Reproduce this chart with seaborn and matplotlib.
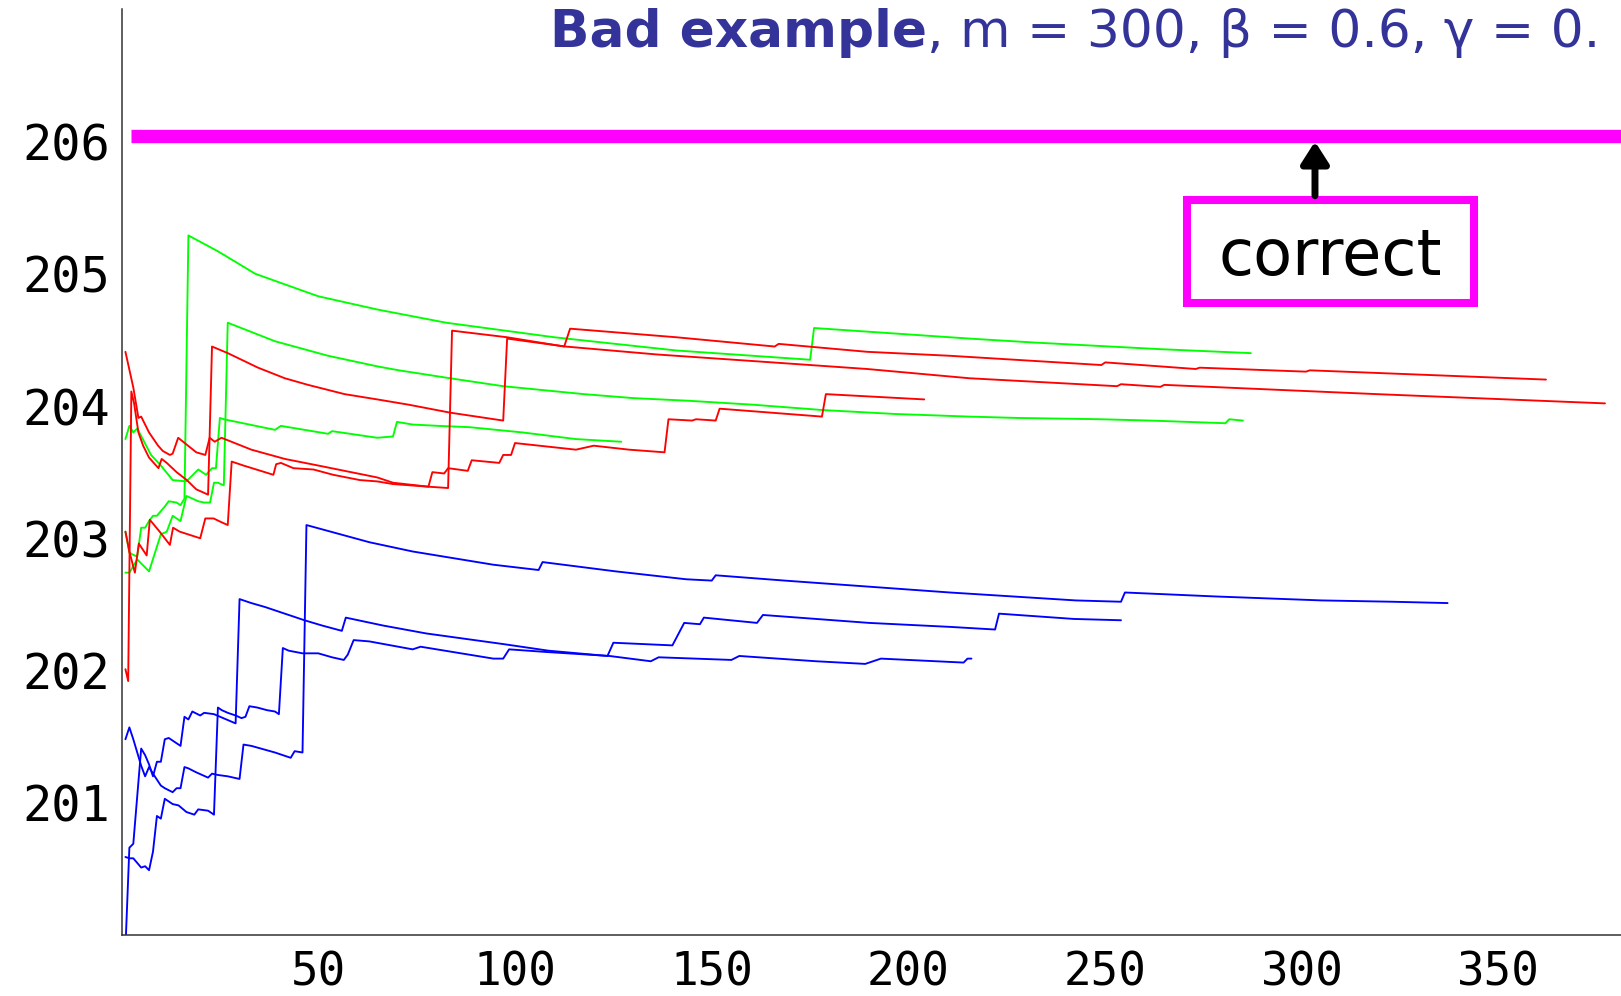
import matplotlib
matplotlib.use("Agg")
import matplotlib.pyplot as plt
import matplotlib.patches as mpatches
from matplotlib.ticker import FixedLocator, MultipleLocator
import pandas as pd
import seaborn as sns

# ---------------- data: running estimates per run ----------------
green1_x = [1, 2, 4, 5, 6, 7, 8, 9, 11, 12, 14, 15, 16, 17, 24.5, 34, 41.5, 50, 65, 82.5,
            110, 141, 175, 176, 215.5, 232, 264, 287]
green1_y = [203.05, 202.89, 202.86, 203.08, 203.08, 203.13, 203.17, 203.17, 203.24, 203.28,
            203.27, 203.25, 203.30, 205.29, 205.17, 205.00, 204.92, 204.83, 204.73, 204.63,
            204.52, 204.42, 204.35, 204.59, 204.51, 204.48, 204.43, 204.40]

green2_x = [1, 2, 4, 7, 8.5, 10, 11.5, 13, 15, 16.5, 18, 19.5, 21, 22.5, 23.5, 24.5, 26, 27,
            39, 52.5, 65, 70.5, 83.5, 97, 117.5, 130, 144, 160.5, 178, 196.5, 215.5, 227.5,
            249, 261.5, 280.5, 281.5, 285]
green2_y = [202.74, 202.74, 202.84, 202.75, 202.89, 203.03, 203.05, 203.17, 203.13, 203.32,
            203.30, 203.28, 203.27, 203.27, 203.42, 203.42, 203.40, 204.63, 204.49, 204.38,
            204.30, 204.27, 204.21, 204.15, 204.09, 204.06, 204.04, 204.01, 203.97, 203.94,
            203.92, 203.91, 203.90, 203.89, 203.87, 203.90, 203.89]

green3_x = [1, 2, 3, 4, 7.5, 10, 13, 16.5, 19.5, 21.5, 23, 24, 25, 26, 39, 40.5, 52.5, 53.5,
            65, 69, 70, 74, 80.5, 88.5, 102, 115.5, 127]
green3_y = [203.75, 203.85, 203.80, 203.83, 203.63, 203.55, 203.44, 203.43, 203.52, 203.48,
            203.53, 203.53, 203.91, 203.90, 203.82, 203.85, 203.79, 203.81, 203.76, 203.77,
            203.88, 203.86, 203.85, 203.84, 203.80, 203.75, 203.73]

red1_x = [1, 3, 4.3, 5, 7, 9.3, 10.5, 12.3, 13, 14.4, 19, 21.3, 22.4, 23.7, 25.4, 33, 41.5,
          50, 65, 69, 78, 83, 84, 98, 112.5, 114, 141, 166, 167, 189.5, 210.5, 249, 250,
          273, 274, 301, 302, 362]
red1_y = [204.41, 204.14, 203.91, 203.92, 203.80, 203.70, 203.66, 203.63, 203.64, 203.76,
          203.65, 203.63, 203.76, 203.73, 203.76, 203.67, 203.60, 203.55, 203.46, 203.42,
          203.39, 203.38, 204.57, 204.52, 204.45, 204.585, 204.52, 204.45, 204.47, 204.41,
          204.38, 204.31, 204.33, 204.28, 204.29, 204.26, 204.27, 204.20]

red2_x = [1, 1.7, 2.5, 3.2, 4.3, 5.5, 7, 9.4, 10.2, 11.5, 14, 16.6, 19, 22, 23, 27, 34.7,
          41.5, 47.4, 56.7, 65, 73, 83.5, 97, 98, 112.8, 136, 160.5, 189.5, 215.5, 253, 254,
          264, 265, 319, 377]
red2_y = [202.01, 201.92, 204.11, 204.02, 203.80, 203.70, 203.61, 203.53, 203.60, 203.57,
          203.50, 203.44, 203.37, 203.33, 204.45, 204.40, 204.29, 204.21, 204.16, 204.09,
          204.05, 204.01, 203.95, 203.89, 204.51, 204.45, 204.39, 204.34, 204.28, 204.21,
          204.15, 204.165, 204.145, 204.16, 204.09, 204.02]

red3_x = [1, 2, 3.4, 4.4, 6.4, 7.2, 9.7, 12.3, 13.1, 14.8, 20, 21.3, 23.4, 25.5, 27, 28, 31,
          38.6, 39.3, 40.5, 43.7, 48.8, 53.8, 60.6, 65, 69, 78, 79, 82, 83, 88, 89, 96, 97,
          99, 100, 115.5, 120, 129, 138, 139, 145, 146, 151, 152, 178, 179, 204]
red3_y = [203.05, 202.90, 202.74, 202.96, 202.87, 203.14, 203.05, 202.95, 203.08, 203.05,
          203.00, 203.15, 203.15, 203.12, 203.10, 203.58, 203.55, 203.48, 203.56, 203.57,
          203.53, 203.52, 203.48, 203.44, 203.43, 203.41, 203.39, 203.50, 203.49, 203.53,
          203.51, 203.59, 203.57, 203.63, 203.63, 203.72, 203.67, 203.70, 203.67, 203.65,
          203.90, 203.89, 203.90, 203.89, 203.98, 203.92, 204.09, 204.05]

blue1_x = [1, 2, 3, 5, 6, 7, 8, 10, 11, 13, 14, 15, 16, 17, 19, 22, 23, 24.5, 27, 30, 31,
           33, 39, 43, 44, 46, 47, 63, 74, 94.5, 106, 107, 125.5, 143.5, 150, 151, 168.5,
           210.5, 242.5, 254, 255, 278, 305, 323, 337]
blue1_y = [201.48, 201.57, 201.48, 201.28, 201.20, 201.27, 201.22, 201.13, 201.11, 201.08,
           201.11, 201.11, 201.27, 201.26, 201.23, 201.19, 201.22, 201.21, 201.20, 201.18,
           201.44, 201.43, 201.38, 201.34, 201.39, 201.38, 203.10, 202.97, 202.90, 202.80,
           202.76, 202.82, 202.75, 202.69, 202.68, 202.72, 202.68, 202.59, 202.53, 202.52,
           202.59, 202.56, 202.53, 202.52, 202.51]

blue2_x = [1, 2, 3, 5, 6, 7, 8, 9, 10, 11, 12, 15, 16, 17, 18, 20, 21, 23.5, 29, 30, 33,
           36.5, 41.5, 46.5, 51, 56, 57, 66.5, 77.5, 97, 108.5, 123.5, 125, 140, 143, 147,
           148, 161.5, 163, 190, 210.5, 222, 223, 242, 254]
blue2_y = [199.90, 200.66, 200.69, 201.41, 201.36, 201.29, 201.20, 201.31, 201.31, 201.48,
           201.49, 201.43, 201.65, 201.63, 201.69, 201.66, 201.68, 201.67, 201.60, 202.54,
           202.51, 202.48, 202.43, 202.38, 202.34, 202.30, 202.40, 202.34, 202.28, 202.20,
           202.15, 202.11, 202.21, 202.19, 202.36, 202.35, 202.40, 202.36, 202.42, 202.36,
           202.33, 202.31, 202.43, 202.39, 202.38]

blue3_x = [1, 2, 3, 5, 6, 7, 8, 9, 10, 11, 13, 14.5, 16.5, 18.5, 19.5, 22, 23.5, 24.5, 25.5,
           27, 29, 30.5, 31.5, 32.5, 34.5, 37, 39, 40, 41, 42.5, 46, 50, 53.5, 56.5, 57.5,
           59, 63, 74, 76, 94.5, 97, 98.5, 108, 124, 134.5, 136.5, 155, 157, 176.5, 189,
           193, 214, 215, 216]
blue3_y = [200.59, 200.58, 200.58, 200.51, 200.52, 200.49, 200.63, 200.90, 200.88, 201.03,
           200.99, 200.98, 200.93, 200.91, 200.95, 200.94, 200.91, 201.72, 201.70, 201.68,
           201.66, 201.64, 201.65, 201.73, 201.72, 201.70, 201.69, 201.67, 202.17, 202.15,
           202.13, 202.13, 202.10, 202.08, 202.12, 202.23, 202.22, 202.16, 202.18, 202.09,
           202.09, 202.16, 202.14, 202.11, 202.07, 202.10, 202.08, 202.11, 202.07, 202.05,
           202.09, 202.06, 202.09, 202.09]

correct_x = [2.5, 400]
correct_y = [206.045, 206.045]

x_ticks = [50, 100, 150, 200, 250, 300, 350]
y_ticks = [201, 202, 203, 204, 205, 206]

runs = {
    "green 1": (green1_x, green1_y), "green 2": (green2_x, green2_y), "green 3": (green3_x, green3_y),
    "red 1": (red1_x, red1_y), "red 2": (red2_x, red2_y), "red 3": (red3_x, red3_y),
    "blue 1": (blue1_x, blue1_y), "blue 2": (blue2_x, blue2_y), "blue 3": (blue3_x, blue3_y),
}
palette = {name: {"g": "#00ff00", "r": "#ff0000", "b": "#0000ff"}[name[0]] for name in runs}

frames = [pd.DataFrame({"run": name, "step": xs, "value": ys}) for name, (xs, ys) in runs.items()]
df = pd.concat(frames, ignore_index=True)

# ---------------- figure ----------------
sns.set_theme(style="white")
plt.rcParams["font.family"] = ["DejaVu Sans"]

W, H = 1621, 996
fig = plt.figure(figsize=(W / 100, H / 100), dpi=100)
x0_px, yb_px, yt_px = 121.5, 935.0, 9.3
ax = fig.add_axes([x0_px / W, (H - yb_px) / H, 1 - x0_px / W, (yb_px - yt_px) / H])

sns.lineplot(data=df, x="step", y="value", hue="run", hue_order=list(runs), palette=palette,
             estimator=None, sort=False, linewidth=1.35, legend=False, ax=ax)

ax.plot(correct_x, correct_y, color="#ff00ff", lw=9.6, solid_capstyle="butt", zorder=5)

ax.set_xlim(0, (W - x0_px) / 3.935)
ax.set_ylim(200, 207)
ax.set_xlabel("")
ax.set_ylabel("")

for side in ("top", "right"):
    ax.spines[side].set_visible(False)
for side in ("left", "bottom"):
    ax.spines[side].set_color("#333333")
    ax.spines[side].set_linewidth(1.1)

ax.xaxis.set_major_locator(FixedLocator(x_ticks))
ax.xaxis.set_minor_locator(MultipleLocator(10))
ax.yaxis.set_major_locator(FixedLocator(y_ticks))
ax.yaxis.set_minor_locator(MultipleLocator(0.2))
ax.set_xticklabels([str(v) for v in x_ticks])
ax.set_yticklabels([str(v) for v in y_ticks])
ax.tick_params(which="major", direction="in", length=6.8, width=1.0, color="#333333")
ax.tick_params(which="minor", direction="in", length=4.0, width=0.9, color="#333333")
ax.tick_params(axis="x", which="major", pad=11)
ax.tick_params(axis="y", which="major", pad=8.5)
for lab in ax.get_xticklabels():
    lab.set_fontfamily("DejaVu Sans Mono")
    lab.set_fontsize(33)
    lab.set_color("black")
for lab in ax.get_yticklabels():
    lab.set_fontfamily("DejaVu Sans Mono")
    lab.set_fontsize(35)
    lab.set_color("black")

# annotation: boxed label with arrow pointing at the reference line
ax.add_patch(mpatches.Rectangle((270.8, 204.78), 343.7 - 270.8, 205.56 - 204.78,
                                fill=False, edgecolor="#ff00ff", linewidth=5.8, zorder=6))
ax.text(307.1, 204.993, "correct", ha="center", va="baseline", fontsize=46,
        color="black", zorder=7)
ax.add_patch(mpatches.FancyArrowPatch((303.3, 205.59), (303.3, 206.0),
                                      arrowstyle="-|>,head_length=13,head_width=8.3",
                                      mutation_scale=1, lw=5, color="black",
                                      shrinkA=0, shrinkB=0, zorder=6))

# title in two weights
title_color = "#333399"
t1 = fig.text(550 / W, 1 - 46.5 / H, "Bad example", fontsize=37.3, fontweight="bold",
              color=title_color, ha="left", va="baseline")
renderer = fig.canvas.get_renderer()
bb = t1.get_window_extent(renderer)
fig.text(bb.x1 / W, 1 - 46.5 / H, ", m = 300, \u03b2 = 0.6, \u03b3 = 0.", fontsize=37.3,
         color=title_color, ha="left", va="baseline")

fig.savefig("out.png", dpi=100, facecolor="white")
